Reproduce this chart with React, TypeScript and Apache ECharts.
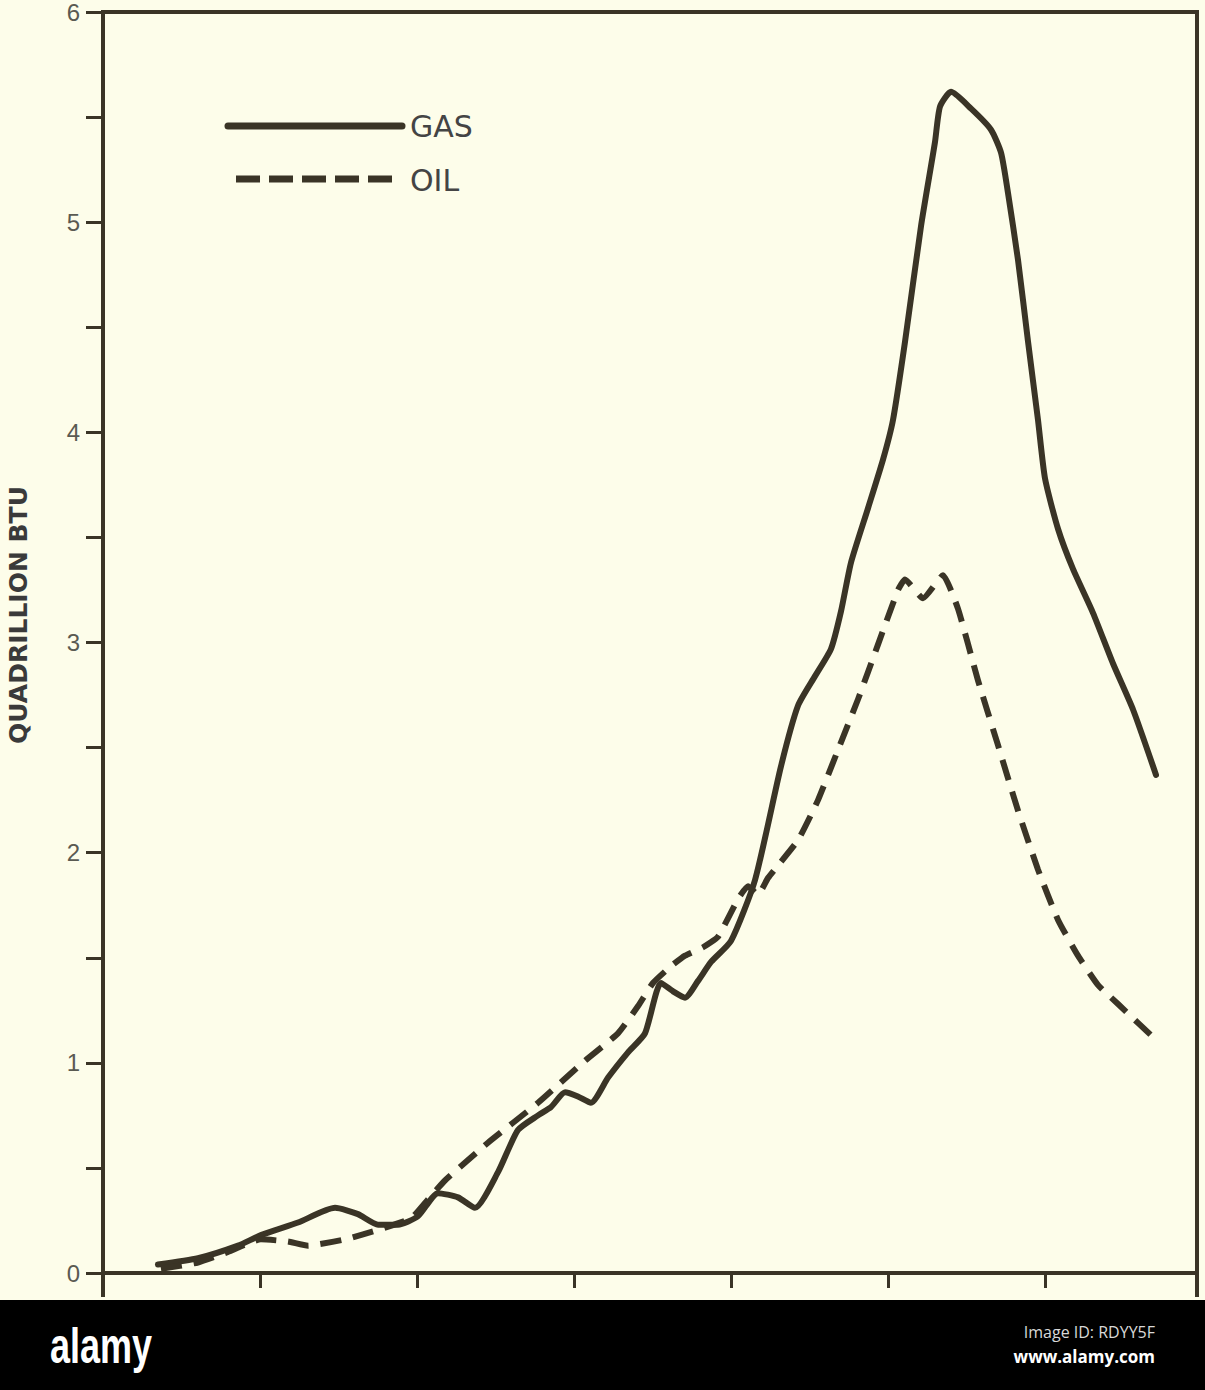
import React, { useEffect, useRef } from "react";
import * as echarts from "echarts";

// Horizontal position in axis units (one unit = 1/10 of a tick interval); ticks are unlabelled in the source
const gasX = [3.5, 6.05, 8.6, 10.06, 12.42, 14.78, 16.24, 17.52, 18.79, 20.06, 21.34, 22.61, 23.69, 25.16, 26.43, 27.71, 28.54, 29.43, 30.25, 31.08, 32.17, 33.44, 34.52, 35.54, 36.31, 37.07, 37.9, 38.73, 40.0, 41.53, 43.18, 44.27, 45.35, 46.37, 47.01, 47.64, 48.73, 49.68, 50.32, 51.08, 52.1, 52.99, 53.31, 54.01, 55.29, 56.56, 57.2, 57.64, 58.28, 58.92, 59.55, 60.0, 60.83, 61.78, 63.06, 64.33, 65.61, 67.07];
const gasY = [0.04, 0.07, 0.13, 0.18, 0.24, 0.31, 0.28, 0.23, 0.23, 0.27, 0.38, 0.36, 0.31, 0.48, 0.68, 0.75, 0.79, 0.86, 0.84, 0.81, 0.93, 1.05, 1.14, 1.38, 1.34, 1.31, 1.39, 1.48, 1.58, 1.87, 2.41, 2.7, 2.84, 2.97, 3.15, 3.38, 3.64, 3.87, 4.06, 4.43, 4.98, 5.38, 5.55, 5.62, 5.54, 5.44, 5.33, 5.14, 4.82, 4.43, 4.06, 3.78, 3.54, 3.35, 3.14, 2.9, 2.68, 2.37];

const oilX = [3.69, 6.05, 7.96, 10.06, 11.78, 13.06, 15.41, 17.71, 19.62, 20.7, 21.78, 24.52, 27.71, 30.7, 32.8, 34.08, 35.03, 36.18, 37.07, 38.22, 39.17, 40.45, 41.08, 41.72, 42.36, 44.27, 45.54, 46.82, 48.09, 49.36, 50.64, 51.08, 52.23, 53.5, 54.46, 55.73, 57.01, 58.28, 59.55, 60.83, 62.1, 63.38, 64.65, 65.92, 67.2];
const oilY = [0.02, 0.05, 0.1, 0.16, 0.15, 0.13, 0.16, 0.21, 0.26, 0.35, 0.44, 0.62, 0.81, 1.01, 1.14, 1.27, 1.38, 1.46, 1.51, 1.55, 1.6, 1.78, 1.84, 1.8, 1.88, 2.06, 2.25, 2.49, 2.73, 2.99, 3.25, 3.3, 3.21, 3.32, 3.16, 2.82, 2.51, 2.2, 1.92, 1.68, 1.51, 1.37, 1.28, 1.19, 1.1];

const yTickLabels = ["0", "1", "2", "3", "4", "5", "6"];
const seriesNames = ["GAS", "OIL"];
const yAxisTitle = "QUADRILLION BTU";

const INK = "#3a3426";
const PAPER = "#fdfdea";

export default function App() {
  const ref = useRef<HTMLDivElement>(null);

  useEffect(() => {
    if (!ref.current) return;
    const chart = echarts.init(ref.current, undefined, { renderer: "svg" });
    const gasData = gasX.map((x, i) => [x, gasY[i]]);
    const oilData = oilX.map((x, i) => [x, oilY[i]]);

    chart.setOption({
      animation: false,
      backgroundColor: PAPER,
      grid: { left: 103, top: 12, width: 1094, height: 1261, containLabel: false },
      xAxis: {
        type: "value",
        min: 0,
        max: 69.68,
        interval: 10,
        offset: 9,
        axisLine: { show: true, lineStyle: { color: INK, width: 4 } },
        axisTick: { show: true, inside: false, length: 15, lineStyle: { color: INK, width: 3 } },
        axisLabel: { show: false },
        splitLine: { show: false },
      },
      yAxis: {
        type: "value",
        min: 0,
        max: 6,
        interval: 0.5,
        axisLine: { show: true, lineStyle: { color: INK, width: 4 } },
        axisTick: { show: true, inside: false, length: 17, lineStyle: { color: INK, width: 3 } },
        axisLabel: {
          margin: 23,
          fontSize: 24,
          color: "#5a5a52",
          fontFamily: "Liberation Sans",
          formatter: (v: number) => (Number.isInteger(v) ? yTickLabels[v] : ""),
        },
        splitLine: { show: false },
      },
      series: [
        {
          name: seriesNames[0],
          type: "line",
          data: gasData,
          symbol: "none",
          smooth: 0.2,
          lineStyle: { color: INK, width: 6, type: "solid", cap: "round", join: "round" },
          z: 3,
        },
        {
          name: seriesNames[1],
          type: "line",
          data: oilData,
          symbol: "none",
          smooth: 0.15,
          lineStyle: { color: INK, width: 6, type: [21, 12], cap: "butt", join: "round" },
          z: 3,
        },
      ],
      graphic: [
        // frame
        { type: "line", shape: { x1: 101, y1: 12, x2: 1199, y2: 12 }, style: { stroke: INK, lineWidth: 4 }, z: 5 },
        { type: "line", shape: { x1: 1197, y1: 10, x2: 1197, y2: 1297 }, style: { stroke: INK, lineWidth: 4 }, z: 5 },
        { type: "line", shape: { x1: 103, y1: 1270, x2: 103, y2: 1297 }, style: { stroke: INK, lineWidth: 4 }, z: 5 },
        // legend
        { type: "line", shape: { x1: 228, y1: 126, x2: 402, y2: 126 }, style: { stroke: INK, lineWidth: 7, lineCap: "round" }, z: 5 },
        { type: "line", shape: { x1: 236, y1: 179, x2: 394, y2: 179 }, style: { stroke: INK, lineWidth: 7, lineDash: [24, 9], lineCap: "butt" }, z: 5 },
        {
          type: "text", x: 410, y: 126, z: 5,
          style: { text: seriesNames[0], fontSize: 30, fontFamily: "DejaVu Sans", fill: "#444", verticalAlign: "middle", align: "left" },
        },
        {
          type: "text", x: 410, y: 180, z: 5,
          style: { text: seriesNames[1], fontSize: 30, fontFamily: "DejaVu Sans", fill: "#444", verticalAlign: "middle", align: "left" },
        },
        // y-axis title
        {
          type: "text", x: 18, y: 615, rotation: Math.PI / 2, z: 5,
          style: { text: yAxisTitle, fontSize: 25, fontWeight: "bold", fontFamily: "DejaVu Sans", fill: "#3a3a3a", align: "center", verticalAlign: "middle" },
        },
        // watermark band
        { type: "rect", shape: { x: 0, y: 1300, width: 1205, height: 90 }, style: { fill: "#000" }, z: 10 },
        {
          type: "text", x: 50, y: 1346, scaleX: 0.72, z: 11,
          style: { text: "alamy", fontSize: 50, fontWeight: "bold", fontFamily: "'Liberation Sans Narrow', 'Liberation Sans', sans-serif", fill: "#fff", verticalAlign: "middle", align: "left" },
        },
        {
          type: "text", x: 1155, y: 1332, z: 11,
          style: { text: "Image ID: RDYY5F", fontSize: 16, fontFamily: "Open Sans", fill: "#d8d8d8", verticalAlign: "middle", align: "right" },
        },
        {
          type: "text", x: 1155, y: 1356, z: 11,
          style: { text: "www.alamy.com", fontSize: 17, fontWeight: "bold", fontFamily: "Open Sans", fill: "#fff", verticalAlign: "middle", align: "right" },
        },
      ],
    });

    return () => chart.dispose();
  }, []);

  return (
    <div
      ref={ref}
      style={{ position: "fixed", left: 0, top: 0, width: 1205, height: 1390 }}
    />
  );
}
